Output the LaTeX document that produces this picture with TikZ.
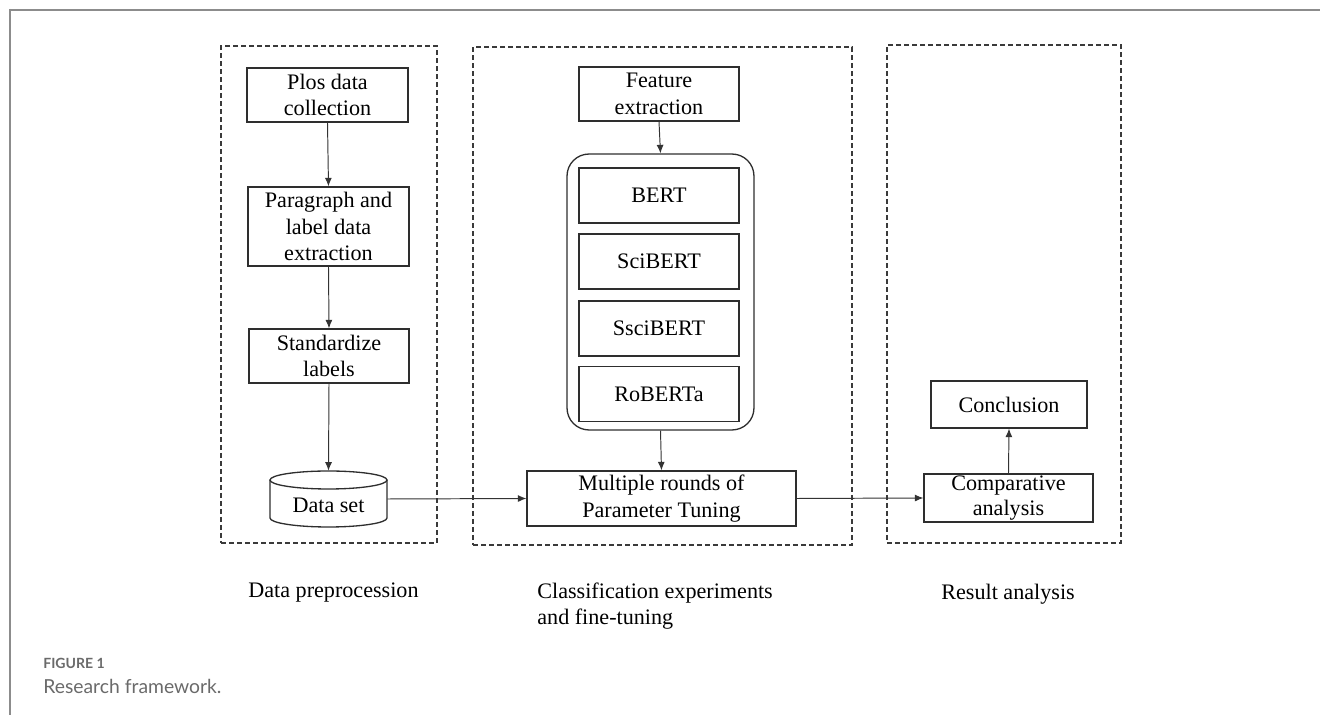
\documentclass[tikz,border=0pt]{standalone}
\usepackage{fontspec}
\setmainfont{Liberation Serif}
\newfontfamily\capfont{Lato}
\usetikzlibrary{arrows.meta}
\definecolor{boxcol}{HTML}{2E2E2E}
\definecolor{dashcol}{HTML}{3A3A3A}
\definecolor{arrcol}{HTML}{333333}
\definecolor{framecol}{HTML}{8C8C8C}
\definecolor{capgray}{HTML}{6A6A6A}
\newcommand\mainsz{\fontsize{12.6pt}{15.1pt}\selectfont}
\begin{document}
\begin{tikzpicture}[x=0.02cm,y=-0.02cm,
  box/.style={draw=boxcol,line width=0.75pt,inner sep=0pt,align=center,font=\mainsz},
  grp/.style={draw=dashcol,line width=0.7pt,dash pattern=on 0.1cm off 0.06cm,inner sep=0pt},
  arr/.style={draw=arrcol,line width=0.55pt,-{Latex[length=0.17cm,width=0.14cm]}},
  lbl/.style={inner sep=0pt,anchor=base west,font=\mainsz,align=left}]
\useasboundingbox (0,0) rectangle (1320,715);
% outer frame
\draw[framecol,line width=0.04cm] (9,10) -- (1320,10);
\draw[framecol,line width=0.04cm] (10,9) -- (10,715);
% groups
\node[grp,minimum width=4.32cm,minimum height=9.94cm] (g1) at (329,294.5) {};
\node[grp,minimum width=7.58cm,minimum height=9.96cm] (g2) at (662.5,296) {};
\node[grp,minimum width=4.68cm,minimum height=9.96cm] (g3) at (1004,294) {};
% group 1
\node[box,minimum width=3.22cm,minimum height=1.08cm] (plos) at (327.5,95) {Plos data\\collection};
\node[box,minimum width=3.22cm,minimum height=1.58cm] (para) at (328.5,226.5) {Paragraph and\\label data\\extraction};
\node[box,minimum width=3.2cm,minimum height=1.08cm] (std) at (329,356) {Standardize\\labels};
\node[inner sep=0pt,minimum width=2.34cm,minimum height=1.12cm] (data) at (328.5,499) {};
\draw[boxcol,line width=0.75pt] (328.5,480) ellipse[x radius=1.17cm,y radius=0.18cm];
\draw[boxcol,line width=0.75pt] (270,480) -- (270,518) arc[start angle=180,end angle=360,x radius=1.17cm,y radius=0.18cm] -- (387,480);
\node[inner sep=0pt,font=\mainsz] (datatext) at (328.5,505) {Data set};
% group 2
\node[box,minimum width=3.2cm,minimum height=1.08cm] (feat) at (659,94) {Feature\\extraction};
\node[draw=boxcol,line width=0.75pt,rounded corners=0.44cm,minimum width=3.74cm,minimum height=5.52cm,inner sep=0pt] (models) at (660.5,292) {};
\node[box,minimum width=3.2cm,minimum height=1.1cm] (bert) at (659,195.5) {BERT};
\node[box,minimum width=3.2cm,minimum height=1.1cm] (scibert) at (659,261.5) {SciBERT};
\node[box,minimum width=3.2cm,minimum height=1.1cm] (ssci) at (659,328.5) {SsciBERT};
\node[box,minimum width=3.2cm,minimum height=1.1cm] (roberta) at (659,394) {RoBERTa};
\node[box,minimum width=5.38cm,minimum height=1.1cm] (multi) at (661.5,498.5) {Multiple rounds of\\Parameter Tuning};
% group 3
\node[box,minimum width=3.12cm,minimum height=0.94cm] (concl) at (1009,404.5) {Conclusion};
\node[box,minimum width=3.38cm,minimum height=0.96cm,font=\fontsize{12.6pt}{14.2pt}\selectfont] (comp) at (1008.5,498) {Comparative\\analysis};
% arrows
\draw[arr] (plos.south) -- (para.north);
\draw[arr] (para.south) -- (std.north);
\draw[arr] (std.south) -- (data.north);
\draw[arr] (data.east) -- (multi.west);
\draw[arr] (feat.south) -- (models.north);
\draw[arr] (models.south) -- (multi.north);
\draw[arr] (multi.east) -- (comp.west);
\draw[arr] (comp.north) -- (concl.south);
% labels
\node[lbl] (l1) at (248,598) {Data preprocession};
\node[lbl,font=\fontsize{12.6pt}{14.8pt}\selectfont] (l2) at (537,625) {Classification experiments\\and fine-tuning};
\node[lbl] (l3) at (941,600) {Result analysis};
% caption
\node[inner sep=0pt,anchor=base west,text=capgray,font=\capfont\bfseries\fontsize{8pt}{9.6pt}\selectfont] (fig) at (43,669) {FIGURE 1};
\node[inner sep=0pt,anchor=base west,text=capgray,font=\capfont\fontsize{11pt}{13pt}\selectfont] (cap) at (43,694) {Research framework.};
\end{tikzpicture}
\end{document}
